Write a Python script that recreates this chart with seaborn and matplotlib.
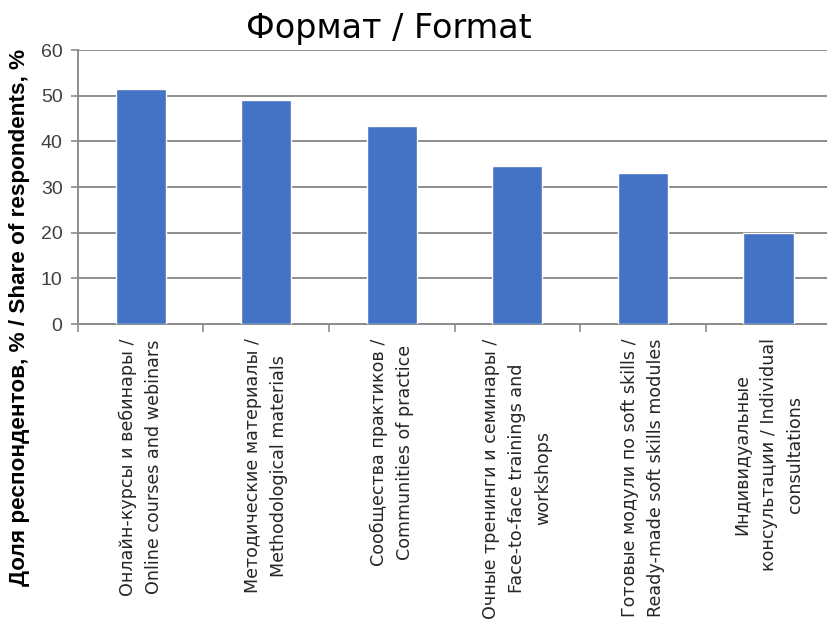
import matplotlib
matplotlib.use("Agg")
import matplotlib.pyplot as plt
import seaborn as sns
import pandas as pd

categories = [
    "Онлайн-курсы и вебинары /\nOnline courses and webinars",
    "Методические материалы /\nMethodological materials",
    "Сообщества практиков /\nCommunities of practice",
    "Очные тренинги и семинары /\nFace-to-face trainings and\nworkshops",
    "Готовые модули по soft skills /\nReady-made soft skills modules",
    "Индивидуальные\nконсультации / Individual\nconsultations",
]
values = [51.5, 49.0, 43.4, 34.6, 33.1, 19.9]
yticks = [0, 10, 20, 30, 40, 50, 60]

sns.set_style("white")
plt.rcParams['font.family'] = ['DejaVu Sans']

df = pd.DataFrame({"cat": categories, "val": values})

fig = plt.figure(figsize=(8.28, 6.27), dpi=100)
ax = fig.add_axes([0.094, 0.483, 0.91, 0.437])
sns.barplot(data=df, x="cat", y="val", color="#4472C4", width=0.4,
            saturation=1, ax=ax, zorder=3)

ax.set_ylim(0, 60)
ax.set_yticks(yticks)
ax.set_xlim(-0.5, len(categories) - 0.5)
ax.yaxis.grid(True, color="#8c8c8c", linewidth=1.4, zorder=0)
ax.set_axisbelow(True)
for s in ["top", "right"]:
    ax.spines[s].set_visible(False)
for s in ["left", "bottom"]:
    ax.spines[s].set_color("#8c8c8c")
    ax.spines[s].set_linewidth(1.4)

ax.tick_params(axis="y", which="both", left=True, length=5, color="#8c8c8c",
               labelsize=14, labelcolor="#404040", width=1.2, pad=6)
for lbl in ax.get_yticklabels():
    lbl.set_family(["Liberation Sans", "DejaVu Sans"])

# x tick marks between categories
ax.set_xticks([i for i in range(len(categories))])
ax.set_xticklabels([])
ax.tick_params(axis="x", which="major", bottom=False, length=0)
ax.set_xticks([i + 0.5 for i in range(-1, len(categories))], minor=True)
ax.tick_params(axis="x", which="minor", bottom=True, length=6,
               color="#8c8c8c", width=1.2)
ax.set_xlabel("")
ax.set_ylabel("")

for i, c in enumerate(categories):
    ax.text(i, -3.1, c, rotation=90, ha="center", va="top",
            multialignment="center", fontsize=12.6, color="#262626",
            linespacing=1.6, family=["DejaVu Sans"])

fig.text(0.47, 0.955, "Формат / Format", ha="center", va="center",
         fontsize=24, color="#000000", family=["DejaVu Sans"])
fig.text(0.024, 0.494, "Доля респондентов, % / Share of respondents, %",
         rotation=90, ha="center", va="center", fontsize=16.2,
         fontweight="bold", color="#000000",
         family=["Liberation Sans Narrow", "Liberation Sans", "DejaVu Sans"])

fig.savefig("out.png", dpi=100)
